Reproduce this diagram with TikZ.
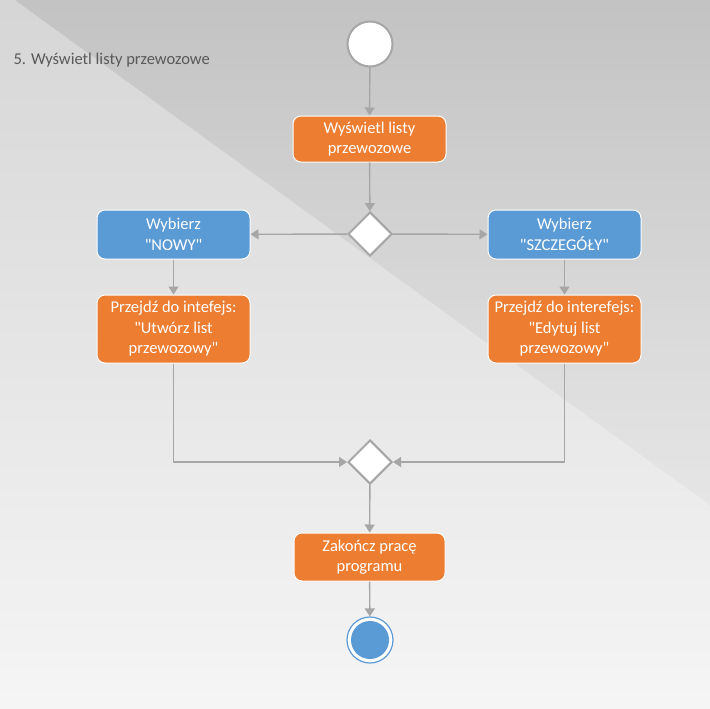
\documentclass[tikz,border=0pt]{standalone}
\usepackage{fontspec}
\setmainfont{Carlito}[Ligatures=TeXOff]
\usetikzlibrary{shapes.geometric,arrows.meta}
\definecolor{actorange}{HTML}{ED7D31}
\definecolor{actblue}{HTML}{5B9BD5}
\definecolor{lineg}{HTML}{A6A6A6}
\definecolor{titleg}{HTML}{595959}
\definecolor{bgtopl}{HTML}{D6D6D6}
\definecolor{bgbotl}{HTML}{F5F5F5}
\definecolor{bgtopr}{HTML}{C3C3C3}
\definecolor{bgbotr}{HTML}{F4F4F4}
\begin{document}
\begin{tikzpicture}[x=1pt,y=-1pt,
  txt/.style={font=\fontsize{16.5}{20.5}\selectfont},
  actbox/.style={txt, rounded corners=8pt, draw=white, line width=1pt, text=white,
    align=center, inner sep=0pt, minimum width=153pt},
  orangebox/.style={actbox, fill=actorange},
  bluebox/.style={actbox, fill=actblue},
  decision/.style={diamond, draw=lineg, fill=white, line width=2pt, inner sep=0pt,
    minimum width=44pt, minimum height=44pt},
  flow/.style={draw=lineg, line width=1.4pt, -{Triangle[width=10pt,length=8pt]}}
]
% background: linear vertical gradient built from thin strips,
% with a darker diagonal band at the top right
\useasboundingbox (0,0) rectangle (710,709);
\foreach \i in {0,...,70} {
  \pgfmathsetmacro\pct{100-\i*100/70}
  \fill[bgtopl!\pct!bgbotl] (0,\i*10) rectangle (710,\i*10+10.6);
}
\begin{scope}
  \clip (15,0) -- (710,0) -- (710,505) -- cycle;
  \foreach \i in {0,...,70} {
    \pgfmathsetmacro\pct{100-\i*100/70}
    \fill[bgtopr!\pct!bgbotr] (0,\i*10) rectangle (710,\i*10+10.6);
  }
\end{scope}

% title
\node[txt, text=titleg, anchor=west] (title) at (10,60) {5. Wyświetl listy przewozowe};

% nodes
\node[circle, draw=lineg, fill=white, line width=2pt, minimum size=45pt, inner sep=0pt] (start) at (370,44) {};
\node[orangebox, minimum height=46pt] (show) at (369.5,139) {Wyświetl listy\\przewozowe};
\node[decision] (d1) at (370,234) {};
\node[bluebox, minimum height=49pt] (nowy) at (173.5,234.5) {Wybierz\\"NOWY"};
\node[bluebox, minimum height=49pt] (szcz) at (564.5,234.5) {Wybierz\\"SZCZEGÓŁY"};
\node[orangebox, minimum height=68pt] (utworz) at (173.5,329) {Przejdź do intefejs:\\"Utwórz list\\przewozowy"};
\node[orangebox, minimum height=68pt] (edytuj) at (564.5,329) {Przejdź do interefejs:\\"Edytuj list\\przewozowy"};
\node[decision] (d2) at (370,462) {};
\node[orangebox, minimum height=48pt, minimum width=151pt] (end) at (369.5,557) {Zakończ pracę\\programu};
\node[circle, draw=actblue, fill=white, line width=1.2pt, minimum size=46pt, inner sep=0pt] (stop) at (370,640) {};
\node[circle, fill=actblue, minimum size=38pt, inner sep=0pt] (stopdot) at (stop.center) {};

% connectors
\draw[flow] (start) -- (show);
\draw[flow] (show) -- (d1);
\draw[flow] (d1) -- (nowy);
\draw[flow] (d1) -- (szcz);
\draw[flow] (nowy) -- (utworz);
\draw[flow] (szcz) -- (edytuj);
\draw[flow] (utworz.south) |- (d2.west);
\draw[flow] (edytuj.south) |- (d2.east);
\draw[flow] (d2) -- (end);
\draw[flow] (end) -- (stop);
\end{tikzpicture}
\end{document}
